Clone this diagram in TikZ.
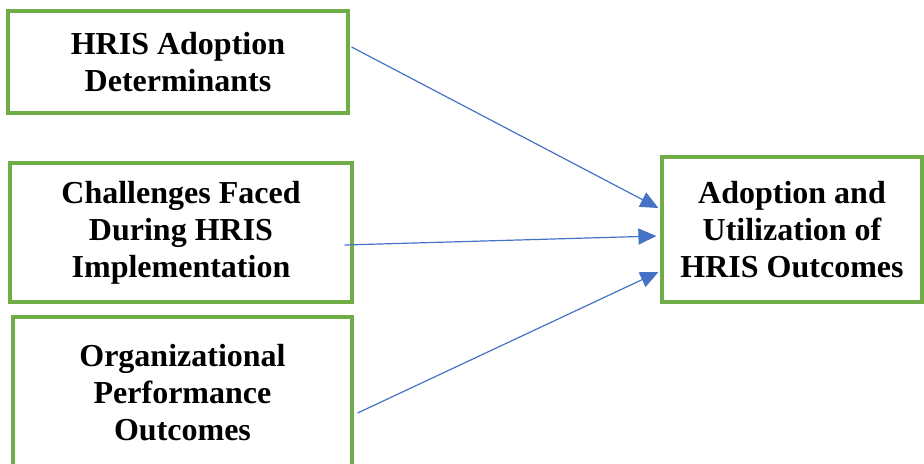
\documentclass[tikz,border=0pt]{standalone}
\usepackage{fontspec}
\setmainfont{Liberation Serif}
\usetikzlibrary{arrows.meta,calc}

\definecolor{boxgreen}{RGB}{112,173,71}
\definecolor{linkblue}{RGB}{68,114,196}

\tikzset{
    factor/.style={draw=boxgreen, line width=1.6pt, align=center, inner sep=0pt,
        font=\bfseries\fontsize{16}{18.5}\selectfont},
    link/.style={draw=linkblue, line width=0.6pt, -{Triangle[length=9pt,width=8pt]}}
}

\begin{document}
\begin{tikzpicture}[x=0.5pt, y=-0.5pt]
    \useasboundingbox (0,0) rectangle (924,463);

    % Boxes on the left
    \node[factor, minimum width=170pt, minimum height=51pt] (determ) at (178,62)
        {HRIS Adoption\\Determinants};
    \node[factor, minimum width=171pt, minimum height=69.5pt] (challenge) at (181,232.5)
        {Challenges Faced\\During HRIS\\Implementation};
    \node[factor, minimum width=169.5pt, minimum height=75.5pt] (perform) at (182.5,392.5)
        {Organizational\\Performance\\Outcomes};

    % Box on the right
    \node[factor, minimum width=130pt, minimum height=72.5pt] (outcome) at (792,229.5)
        {Adoption and\\Utilization of\\HRIS Outcomes};

    % Arrow starts
    \coordinate (s1) at ($(determ.east)+(2,-15)$);
    \coordinate (s2) at ($(challenge.east)+(-9,12.5)$);
    \coordinate (s3) at ($(perform.east)+(4,20.5)$);

    % Arrows
    \draw[link] (s1) -- ($(outcome.west)+(-2,-21.5)$);
    \draw[link] (s2) -- ($(outcome.west)+(-4,6.5)$);
    \draw[link] (s3) -- ($(outcome.west)+(-2,42.5)$);
\end{tikzpicture}
\end{document}
